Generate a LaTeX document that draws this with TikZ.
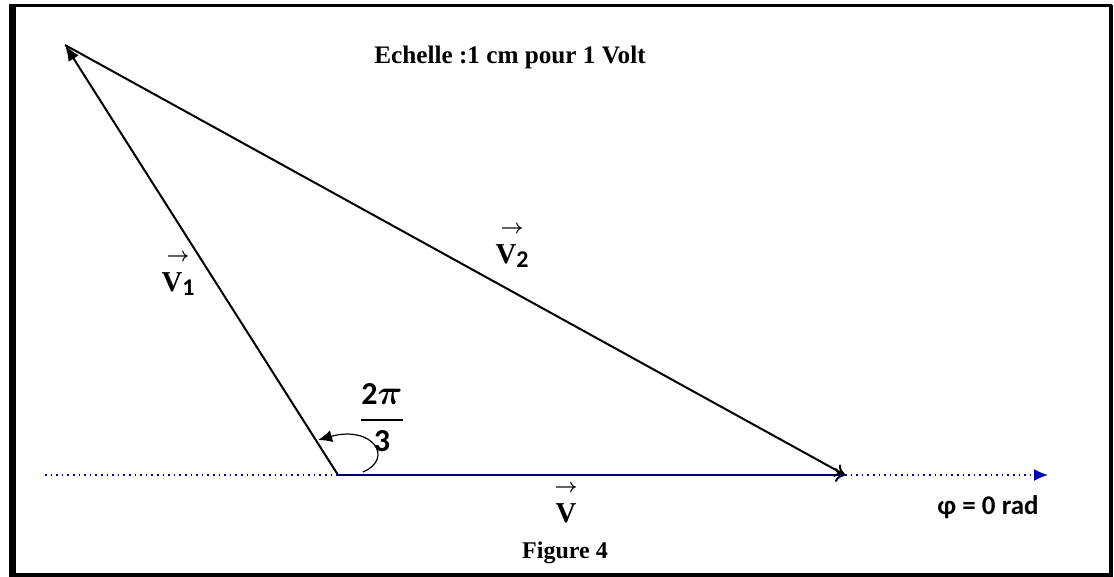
\documentclass[tikz,border=0pt]{standalone}
\usepackage{amsmath,amssymb}
\usepackage{fontspec}
\setmainfont{Liberation Serif}
\newfontfamily\calib{Carlito}
\usetikzlibrary{arrows.meta,calc,positioning}

\begin{document}
\begin{tikzpicture}[x=0.5pt,y=-0.5pt,
    vect/.style={line width=1pt,-{To[length=5pt,width=7pt]}},
    axe/.style={blue!70!black,dotted,line width=0.8pt},
    lbl/.style={align=center,inner sep=0pt,font=\bfseries}]
  \useasboundingbox (0,0) rectangle (1114,577);
  % cadre
  \draw[line width=3.5pt] (12,4) -- (12,577);
  \draw[line width=1.5pt] (10,6) -- (1112,6);
  \draw[line width=2pt] (1111,5) -- (1111,577);
  \draw[line width=2pt] (10,575) -- (1112,575);
  % points
  \coordinate (O) at (338,475);
  \coordinate (A) at (65,45);
  \coordinate (B) at (845,475);
  \coordinate (L) at (45,475);
  \coordinate (R) at (1048,475);
  % axe de reference
  \draw[axe] (L) -- (O);
  \draw[axe,-{Latex[length=7pt,width=6pt]}] (B) -- (R);
  % vecteurs
  \draw[vect,blue!40!black] (O) -- (B);
  \draw[line width=1pt,-{Latex[length=8pt,width=6pt]}] (O) -- (A);
  \draw[vect] (A) -- (B);
  % angle
  \draw[line width=0.6pt,-{Latex[length=7pt,width=6pt]}] (363,472) .. controls (395,458) and (372,425) .. (318,440);
  % textes
  \node[lbl,font=\bfseries\fontsize{12.6}{15}\selectfont] (ech) at (510,57) {Echelle :1 cm pour 1 Volt};
  \node[lbl] (v1) at (178,275) {$\boldsymbol{\rightarrow}$\\[3pt]{\Large V}{\calib\large\raisebox{-2pt}{1}}};
  \node[lbl] (v2) at (512,247) {$\boldsymbol{\rightarrow}$\\[3pt]{\Large V}{\calib\large\raisebox{-2pt}{2}}};
  \node[lbl] (v) at (566,504) {$\boldsymbol{\rightarrow}$\\[3pt]{\Large V}};
  \node[lbl,font=\calib\bfseries\fontsize{16}{19}\selectfont] (ang) at (382,418) {$\genfrac{}{}{1pt}{0}{\text{2}\boldsymbol{\pi}}{\text{3}}$};
  \node[lbl,font=\calib\bfseries\fontsize{13.5}{16}\selectfont] (phi) at (988,507) {φ = 0 rad};
  \node[lbl,font=\bfseries\large] (fig) at (565,553) {Figure 4};
\end{tikzpicture}
\end{document}
